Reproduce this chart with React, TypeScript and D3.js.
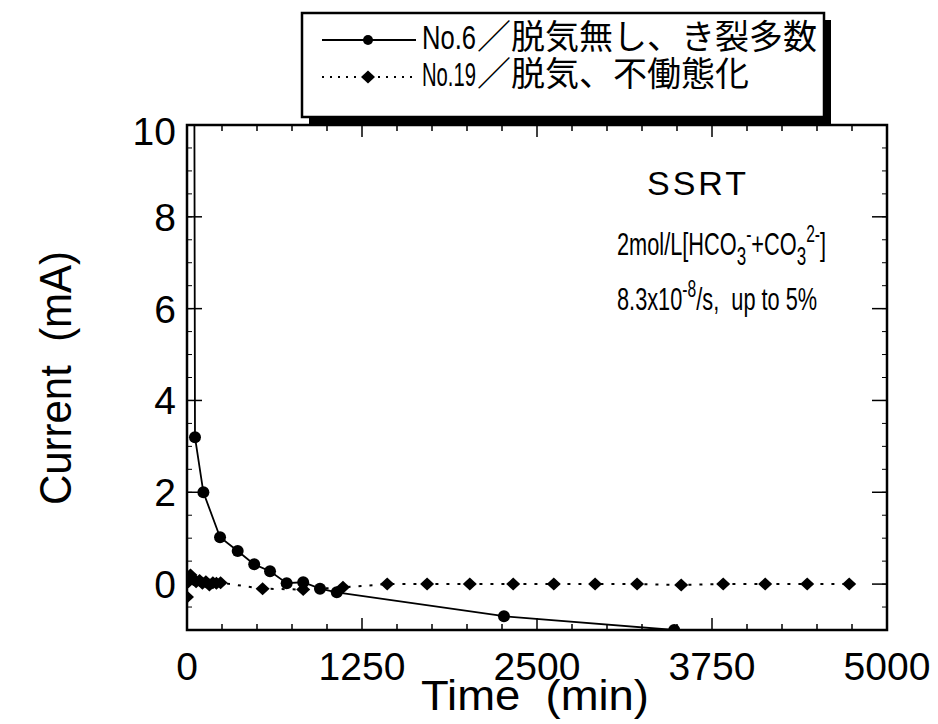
import React from "react";
import * as d3 from "d3";

const timeTicks = [0, 1250, 2500, 3750, 5000];
const currentTicks = [0, 2, 4, 6, 8, 10];

// No.6 (solid, circles) — first point is off-scale (clipped)
const no6Time = [50, 57, 117, 236, 362, 480, 593, 712, 830, 950, 1070, 2264, 3480];
const no6Current = [15, 3.2, 2.0, 1.02, 0.72, 0.43, 0.28, 0.02, 0.04, -0.1, -0.18, -0.7, -1.0];

// No.19 (dotted, diamonds)
const no19Time = [0, 10, 25, 45, 65, 90, 110, 135, 160, 185, 210, 240, 540, 830, 1114, 1430, 1715, 2020, 2330, 2620, 2915, 3215, 3530, 3830, 4130, 4430, 4730];
const no19Current = [-0.28, 0.05, 0.2, 0.1, 0.05, 0.08, 0.02, 0.05, -0.02, 0.03, 0.02, 0.03, -0.1, -0.12, -0.07, 0, 0, 0, 0, 0, 0, 0, -0.02, 0, 0, 0, 0];

const legendIds = ["No.6", "No.19"];
const legendDesc = ["／脱気無し、き裂多数", "／脱気、不働態化"];

const W = 938, H = 724;
const L = 187, R = 887, T = 125, B = 630;
const FONTW = "'Liberation Sans', Arial, 'Noto Sans CJK JP', sans-serif";
const CJK = "'Noto Sans CJK JP', 'Noto Sans CJK SC', sans-serif";

export default function App() {
  const x = d3.scaleLinear().domain([0, 5000]).range([L, R]);
  const y = d3.scaleLinear().domain([-1, 10]).range([B, T]);
  const s1 = no6Time.map((t, i) => [t, no6Current[i]] as [number, number]);
  const s2 = no19Time.map((t, i) => [t, no19Current[i]] as [number, number]);
  const line = d3.line<[number, number]>().x(d => x(d[0])).y(d => y(d[1]));
  const minorX = d3.range(0, 5001, 250);
  const minorY = d3.range(-1, 10.01, 0.5);
  const diamond = "M0,-6.5L7,0L0,6.5L-7,0Z";

  return (
    <svg width={W} height={H} style={{ display: "block", background: "#fff", position: "absolute", left: 0, top: 0 }}>
      <defs>
        <clipPath id="plot"><rect x={L} y={T} width={R - L} height={B - T} /></clipPath>
      </defs>
      {/* minor ticks */}
      {minorX.map(v => (
        <g key={"mx" + v}>
          <line x1={x(v)} x2={x(v)} y1={B} y2={B - (v % 1250 === 0 ? 12 : 6)} stroke="#000" strokeWidth={1.5} />
          <line x1={x(v)} x2={x(v)} y1={T} y2={T + (v % 1250 === 0 ? 12 : 6)} stroke="#000" strokeWidth={1.5} />
        </g>
      ))}
      {minorY.map(v => (
        <g key={"my" + v}>
          <line x1={L} x2={L + 5} y1={y(v)} y2={y(v)} stroke="#000" strokeWidth={1} />
          <line x1={R} x2={R - 5} y1={y(v)} y2={y(v)} stroke="#000" strokeWidth={1} />
        </g>
      ))}
      {currentTicks.map(v => (
        <g key={"yt" + v}>
          <line x1={L} x2={L + 15} y1={y(v)} y2={y(v)} stroke="#000" strokeWidth={1.5} />
          <line x1={R} x2={R - 15} y1={y(v)} y2={y(v)} stroke="#000" strokeWidth={1.5} />
          <text x={176} y={y(v) + (v === 10 ? 6 : 0)} dy="0.36em" textAnchor="end" fontSize={39} fontFamily={FONTW}>{v}</text>
        </g>
      ))}
      {timeTicks.map(v => (
        <text key={"xt" + v} x={x(v)} y={680} textAnchor="middle" fontSize={39} fontFamily={FONTW}>{v}</text>
      ))}
      <text x={535} y={710} textAnchor="middle" fontSize={42} fontFamily={FONTW} xmlSpace="preserve" textLength={228} lengthAdjust="spacingAndGlyphs">Time  (min)</text>
      <text transform="translate(71,378) rotate(-90)" textAnchor="middle" fontSize={44} fontFamily={FONTW} xmlSpace="preserve" textLength={254} lengthAdjust="spacingAndGlyphs">Current  (mA)</text>

      <g clipPath="url(#plot)">
        <path d={line(s1) || ""} fill="none" stroke="#000" strokeWidth={1.8} />
        <path d={line(s2) || ""} fill="none" stroke="#000" strokeWidth={2} strokeDasharray="3,8" />
        {s1.map((d, i) => <circle key={"c" + i} cx={x(d[0])} cy={y(d[1])} r={6} fill="#000" />)}
        {s2.map((d, i) => <path key={"d" + i} d={diamond} transform={`translate(${x(d[0])},${y(d[1])})`} fill="#000" />)}
      </g>
      <rect x={L} y={T} width={R - L} height={B - T} fill="none" stroke="#000" strokeWidth={2.5} />

      {/* annotations */}
      <text x={647} y={195} fontSize={34} letterSpacing={3} fontFamily={FONTW}>SSRT</text>
      <g transform="translate(617,255) scale(0.68,1)">
        <text x={0} y={0} fontSize={32} fontFamily={FONTW}>
          2mol/L[HCO<tspan dy={10} fontSize={25}>3</tspan><tspan dy={-23} fontSize={23}>-</tspan><tspan dy={13}>+CO</tspan><tspan dy={10} fontSize={25}>3</tspan><tspan dy={-23} fontSize={23}>2-</tspan><tspan dy={13}>]</tspan>
        </text>
      </g>
      <g transform="translate(617,310) scale(0.68,1)">
        <text x={0} y={0} fontSize={32} fontFamily={FONTW} xmlSpace="preserve">
          8.3x10<tspan dy={-13} fontSize={23}>-8</tspan><tspan dy={13}>/s,  up to 5%</tspan>
        </text>
      </g>

      {/* legend */}
      <rect x={309} y={20} width={522} height={104} fill="#000" />
      <rect x={302} y={13} width={522} height={104} fill="#fff" stroke="#000" strokeWidth={2.5} />
      <line x1={322} x2={416} y1={40} y2={40} stroke="#000" strokeWidth={1.8} />
      <circle cx={368} cy={40} r={5} fill="#000" />
      <line x1={322} x2={416} y1={77} y2={77} stroke="#000" strokeWidth={2} strokeDasharray="2,6" />
      <path d={diamond} transform="translate(368,77)" fill="#000" />
      {legendIds.map((id, i) => (
        <g key={"lg" + i}>
          <text x={422} y={49 + i * 37} fontSize={34} fontFamily={FONTW} textLength={54} lengthAdjust="spacingAndGlyphs">{id}</text>
          <text x={477} y={49 + i * 37} fontSize={34} fontFamily={CJK}>{legendDesc[i]}</text>
        </g>
      ))}
    </svg>
  );
}
